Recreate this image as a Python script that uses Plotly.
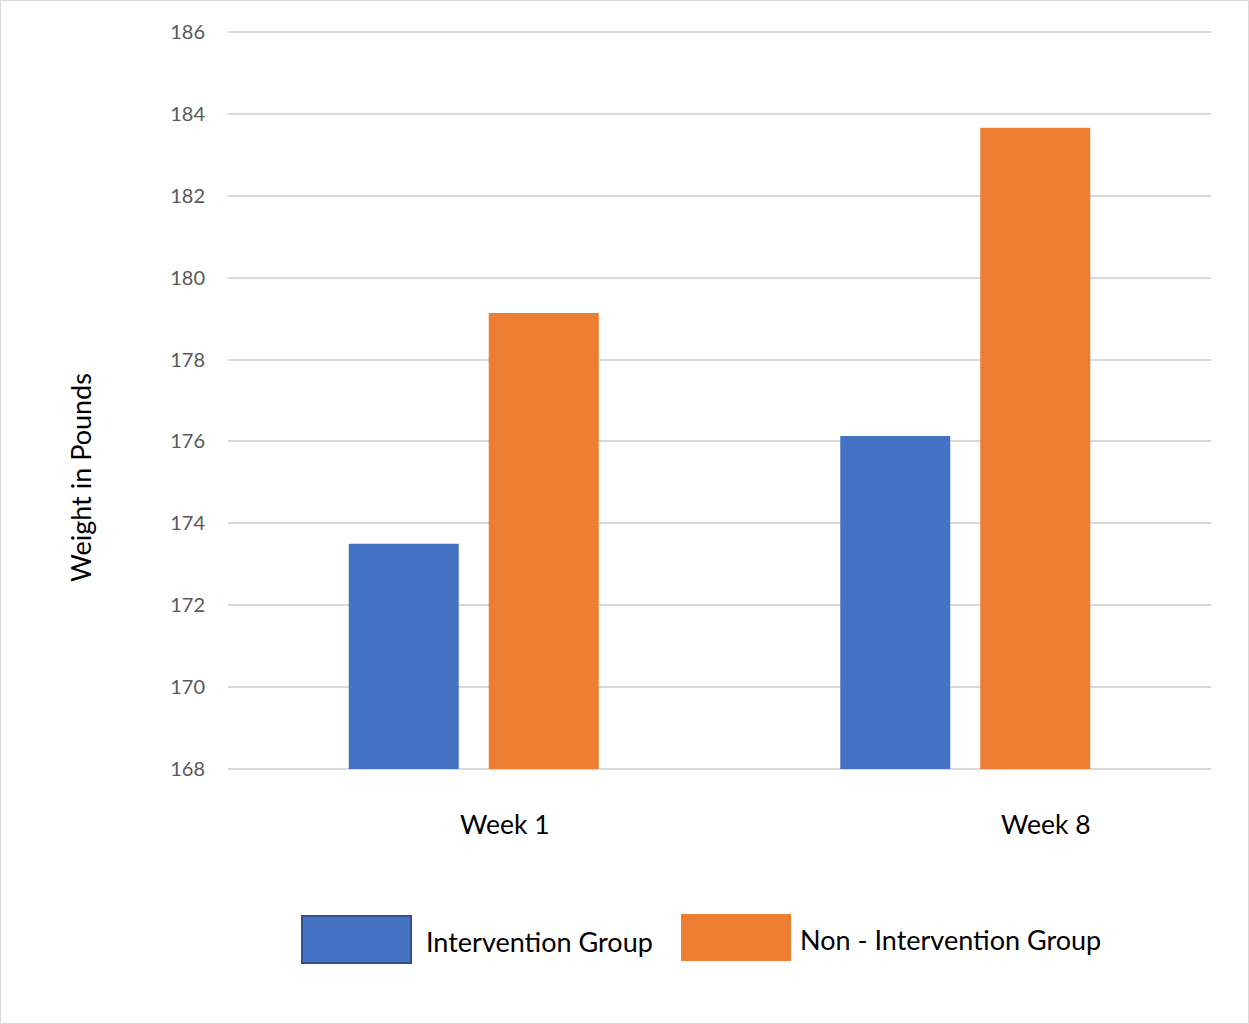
import plotly.graph_objects as go

# Mean weight (lb) per group at each measurement week
weeks = ["Week 1", "Week 8"]
intervention = [173.5, 176.13]
non_intervention = [179.14, 183.66]
y_ticks = [168, 170, 172, 174, 176, 178, 180, 182, 184, 186]

BLUE = "#4472c4"
ORANGE = "#ed7d31"
FONT = "Lato, 'Open Sans', sans-serif"

W, H = 1249, 1024
ML, MR, MT, MB = 228, 38, 28, 251
PW, PH = W - ML - MR, H - MT - MB
# a few pixels of padding at each end keep the 168 and 186 grid lines visible
PAD = 18 * 4 / (PH - 8)


def px_x(p):
    return (p - ML) / PW


def px_y(p):
    return 1 - (p - MT) / PH


fig = go.Figure()
fig.add_trace(go.Bar(x=weeks, y=intervention, name="Intervention Group",
                     base=168, marker=dict(color=BLUE, line=dict(width=0))))
fig.add_trace(go.Bar(x=weeks, y=non_intervention, name="Non - Intervention Group",
                     base=168, marker=dict(color=ORANGE, line=dict(width=0))))
# bars start at 168: lengths measured from that base
fig.data[0].y = [v - 168 for v in intervention]
fig.data[1].y = [v - 168 for v in non_intervention]

shapes = [
    # outer frame
    dict(type="rect", xref="paper", yref="paper",
         x0=px_x(0.5), x1=px_x(W - 0.5), y0=px_y(0.5), y1=px_y(H - 0.5),
         line=dict(color="#d9d9d9", width=1), fillcolor="rgba(0,0,0,0)", layer="below"),
    # legend swatches
    dict(type="rect", xref="paper", yref="paper",
         x0=px_x(302), x1=px_x(411), y0=px_y(916), y1=px_y(963),
         line=dict(color="#2f528f", width=2), fillcolor=BLUE),
    dict(type="rect", xref="paper", yref="paper",
         x0=px_x(681), x1=px_x(791), y0=px_y(914), y1=px_y(961),
         line=dict(width=0), fillcolor=ORANGE),
]

annotations = [
    dict(x=weeks[0], y=px_y(824), xref="x", yref="paper", xshift=31,
         xanchor="center", yanchor="middle",
         text=weeks[0], showarrow=False, font=dict(size=26.5, color="#000000", family=FONT)),
    dict(x=weeks[1], y=px_y(824), xref="x", yref="paper", xshift=81,
         xanchor="center", yanchor="middle",
         text=weeks[1], showarrow=False, font=dict(size=26.5, color="#000000", family=FONT)),
    dict(x=px_x(424), y=px_y(941), xref="paper", yref="paper",
         xanchor="left", yanchor="middle",
         text="Intervention Group", showarrow=False,
         font=dict(size=27, color="#000000", family=FONT)),
    dict(x=px_x(798), y=px_y(939), xref="paper", yref="paper",
         xanchor="left", yanchor="middle",
         text="Non - Intervention Group", showarrow=False,
         font=dict(size=27, color="#000000", family=FONT)),
    dict(x=px_x(80), y=px_y(478), xref="paper", yref="paper", textangle=-90,
         xanchor="center", yanchor="middle",
         text="Weight in Pounds", showarrow=False,
         font=dict(size=27, color="#000000", family=FONT)),
]

fig.update_layout(
    width=W, height=H,
    margin=dict(l=ML, r=MR, t=MT, b=MB),
    paper_bgcolor="white", plot_bgcolor="white",
    barmode="group", bargap=0.4303, bargroupgap=0.2143,
    showlegend=False,
    font=dict(family=FONT),
    shapes=shapes,
    annotations=annotations,
    xaxis=dict(showticklabels=False, showgrid=False, zeroline=False, showline=False),
    yaxis=dict(range=[168 - PAD, 186 + PAD], tickvals=y_ticks, showgrid=True,
               gridcolor="#d9d9d9", gridwidth=1.5, zeroline=False, showline=False,
               ticks="", ticklabelstandoff=22,
               tickfont=dict(size=20, color="#595959", family=FONT)),
)

fig.write_html("out.html")
